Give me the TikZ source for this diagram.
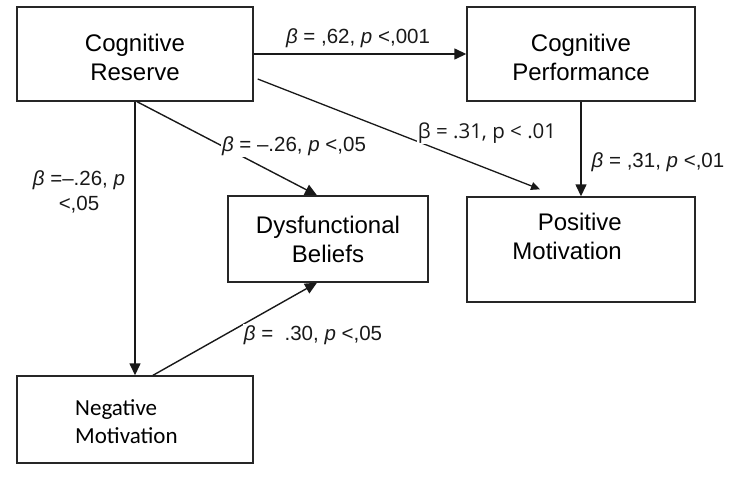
\documentclass[tikz,border=0pt]{standalone}
\usepackage{fontspec}
\setmainfont{Liberation Sans}
\newfontfamily\calfont{Carlito}
\newfontfamily\segfont{Open Sans}
\usetikzlibrary{arrows.meta}
\begin{document}
\begin{tikzpicture}[x=1pt,y=1pt,
  box/.style={draw=black!85, line width=1.4pt, inner sep=0pt, align=center,
    font=\fontsize{24}{29}\selectfont},
  boxtext/.style={inner sep=0pt},
  lbl/.style={inner sep=1pt, text=black!90, font=\fontsize{20.5}{25}\selectfont},
  conn/.style={draw=black!90, line width=1.4pt, -{Triangle[length=12pt,width=11pt]}},
  connsmall/.style={draw=black!90, line width=1.3pt, -{Triangle[length=9pt,width=8pt]}},
]
\useasboundingbox (0,0) rectangle (748,-479);
% boxes
\node[box, minimum width=236, minimum height=94] (cr) at (135,-54) {};
\node[boxtext, align=center, font=\fontsize{24}{29}\selectfont] (crt) at (135,-57) {Cognitive\\Reserve};
\node[box, minimum width=228, minimum height=94] (cp) at (581,-54) {};
\node[boxtext, align=center, font=\fontsize{24}{29}\selectfont] (cpt) at (581,-57) {Cognitive\\Performance};
\node[box, minimum width=228, minimum height=105] (pm) at (581,-249.5) {};
\node[boxtext, anchor=north east, align=right, font=\fontsize{24}{29}\selectfont] (pmt) at (622,-213) {Positive\\Motivation};
\node[box, minimum width=200, minimum height=86] (db) at (328,-239) {Dysfunctional\\Beliefs};
\node[box, minimum width=236, minimum height=87] (nm) at (135,-419.5) {};
\node[boxtext, anchor=north west, align=left, font=\calfont\fontsize{23}{28}\selectfont] (nmt) at (75,-399) {Negative\\Motivation};
% connectors
\draw[conn] (cr.east) -- (cp.west);
\draw[conn] (cr.south) -- (nm.north);
\draw[conn] (cp.south) -- (pm.north);
\draw[conn] ([xshift=2pt]cr.south) -- ([xshift=-11pt]db.north);
\draw[conn] ([xshift=18pt]nm.north) -- ([xshift=-11pt]db.south);
\draw[connsmall] ([shift={(4pt,-25pt)}]cr.east) -- ([shift={(-41pt,7pt)}]pm.north);
% labels
\node[lbl] (l1) at (358,-38) {\textit{β} = ,62, \textit{p} <,001};
\node[lbl, fill=white] (l2) at (294,-146) {\textit{β} = –.26, \textit{p} <,05};
\node[lbl, align=center] (l3) at (79,-192) {\textit{β} =–.26, \textit{p}\\<,05};
\node[lbl, fill=white, font=\segfont\fontsize{20.5}{24}\selectfont] (l4) at (487,-133) {β = .31, p < .01};
\node[lbl] (l5) at (658,-162) {\textit{β} = ,31, \textit{p} <,01};
\node[lbl, fill=white] (l6) at (313,-335) {\textit{β} =\ \ .30, \textit{p} <,05};
\end{tikzpicture}
\end{document}
